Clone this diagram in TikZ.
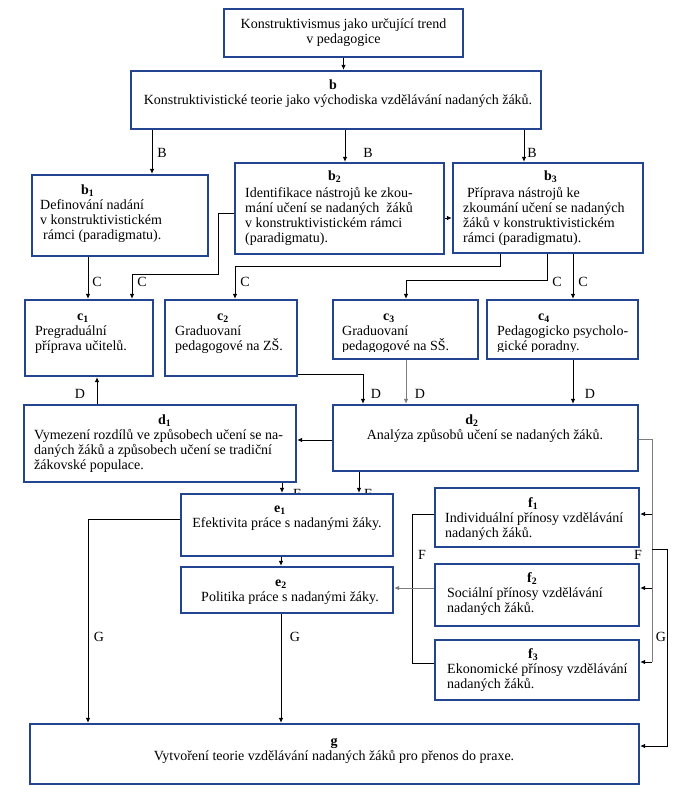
\documentclass[tikz,border=0pt]{standalone}
\usepackage{fontspec}
\setmainfont{Liberation Serif}
\usetikzlibrary{arrows.meta,fit}
\definecolor{boxblue}{RGB}{35,68,145}
\definecolor{lgray}{RGB}{125,125,125}
\newcommand\st{\rule{0pt}{11pt}}
\begin{document}
\begin{tikzpicture}[x=1pt,y=-1pt,
  box/.style={draw=boxblue, line width=2.4pt, fill=white, inner sep=0pt},
  txt/.style={font=\fontsize{14}{15}\selectfont, inner sep=0pt, anchor=north west, align=left},
  ctxt/.style={font=\fontsize{14}{15}\selectfont, inner sep=0pt, anchor=north, align=center},
  lab/.style={font=\fontsize{14}{15}\selectfont, inner sep=0pt},
  con/.style={line width=0.8pt},
  arr/.style={line width=0.8pt, -{Latex[length=5pt,width=4.5pt]}},
  gcon/.style={con, draw=lgray},
  garr/.style={arr, draw=lgray}]
\fill[white] (0,0) rectangle (677,796);
\useasboundingbox (0,0) rectangle (677,796);

% labels partly hidden by e1
\node[lab, anchor=base] (lF1) at (297,498) {F};
\node[lab, anchor=base] (lF2) at (368,498) {F};

% boxes
\node[box, fit={(224,9)(463,57)}] (a) {};
\node[box, fit={(131,71)(541,129)}] (b) {};
\node[box, fit={(32,175)(208,256)}] (b1) {};
\node[box, fit={(235,163)(444,254)}] (b2) {};
\node[box, fit={(453,163)(643,253)}] (b3) {};
\node[box, fit={(25,300)(153,376)}] (c1) {};
\node[box, fit={(165,300)(297,376)}] (c2) {};
\node[box, fit={(333,300)(478,359)}] (c3) {};
\node[box, fit={(487,300)(638,359)}] (c4) {};
\node[box, fit={(24,405)(296,482)}] (d1) {};
\node[box, fit={(333,405)(638,471)}] (d2) {};
\node[box, fit={(181,494)(393,556)}] (e1) {};
\node[box, fit={(181,567)(393,613)}] (e2) {};
\node[box, fit={(435,488)(639,547)}] (f1) {};
\node[box, fit={(435,564)(639,626)}] (f2) {};
\node[box, fit={(435,640)(639,700)}] (f3) {};
\node[box, fit={(30,724)(639,784)}] (g) {};

% texts
\node[ctxt] (ta) at (343.5,17) {\st Konstruktivismus jako určující trend\\v pedagogice};
\node[ctxt] (tb) at (338,78) {\st\hspace*{-10pt}\textbf{b}\\Konstruktivistické teorie jako východiska vzdělávání nadaných žáků.};
\node[txt] (tb1) at (40,183) {\st\hspace*{41pt}\textbf{b\textsubscript{1}}\\Definování nadání\\v konstruktivistickém\\\hspace*{3pt}rámci (paradigmatu).};
\node[txt] (tb2) at (245,169) {\st\hspace*{83pt}\textbf{b\textsubscript{2}}\\[2pt]Identifikace nástrojů ke zkou-\\mání učení se nadaných~ žáků\\v konstruktivistickém rámci\\(paradigmatu).};
\node[txt] (tb3) at (463,169) {\st\hspace*{81pt}\textbf{b\textsubscript{3}}\\[2pt]\hspace*{4pt}Příprava nástrojů ke\\zkoumání učení se nadaných\\žáků v konstruktivistickém\\rámci (paradigmatu).};
\node[txt] (tc1) at (35,309) {\st\hspace*{42pt}\textbf{c\textsubscript{1}}\\Pregraduální\\příprava učitelů.};
\node[txt] (tc2) at (175,309) {\st\hspace*{42pt}\textbf{c\textsubscript{2}}\\Graduovaní\\pedagogové na ZŠ.};
\begin{scope}
\clip (334,300) rectangle (478,351.5);
\node[txt] (tc3) at (342,309) {\st\hspace*{41pt}\textbf{c\textsubscript{3}}\\Graduovaní\\pedagogové na SŠ.};
\end{scope}
\begin{scope}
\clip (488,300) rectangle (638,351.5);
\node[txt] (tc4) at (497,309) {\st\hspace*{41pt}\textbf{c\textsubscript{4}}\\Pedagogicko psycholo-\\gické poradny.};
\end{scope}
\node[txt] (td1) at (34,413) {\st\hspace*{124pt}\textbf{d\textsubscript{1}}\\Vymezení rozdílů ve způsobech učení se na-\\daných žáků a způsobech učení se tradiční\\žákovské populace.};
\node[ctxt] (td2) at (485,413) {\st\hspace*{-26pt}\textbf{d\textsubscript{2}}\\Analýza způsobů učení se nadaných žáků.};
\node[ctxt] (te1) at (287,501) {\st\hspace*{-14pt}\textbf{e\textsubscript{1}}\\Efektivita práce s nadanými žáky.};
\node[ctxt] (te2) at (290,575) {\st\hspace*{-18pt}\textbf{e\textsubscript{2}}\\Politika práce s nadanými žáky.};
\node[txt] (tf1) at (445,496) {\st\hspace*{83pt}\textbf{f\textsubscript{1}}\\Individuální přínosy vzdělávání\\nadaných žáků.};
\node[txt] (tf2) at (447,571) {\st\hspace*{80pt}\textbf{f\textsubscript{2}}\\Sociální přínosy vzdělávání\\nadaných žáků.};
\node[txt] (tf3) at (447,647) {\st\hspace*{81pt}\textbf{f\textsubscript{3}}\\Ekonomické přínosy vzdělávání\\nadaných žáků.};
\node[ctxt] (tg) at (334,734) {\st\textbf{g}\\Vytvoření teorie vzdělávání nadaných žáků pro přenos do praxe.};

% junction coordinates
\coordinate (jb2) at (218,274);
\coordinate (jc2) at (235,266);
\coordinate (jc3) at (406,280);
\coordinate (je1) at (88,519);
\coordinate (jf) at (412,663);
\coordinate (jr1) at (652,514);
\coordinate (jr2) at (652,588);
\coordinate (jr3) at (652,662);
\coordinate (jg0) at (652,549);
\coordinate (jg1) at (667,746);

% connectors
\draw[arr] (a.south) -- (a.south |- b.north);
\draw[arr] (b.south -| 152,0) -- (b1.north -| 152,0);
\draw[arr] (b.south -| 345,0) -- (b2.north -| 345,0);
\draw[arr] (b.south -| 524,0) -- (b3.north -| 524,0);
\draw[arr] (b2.east |- 0,218) -- (b3.west |- 0,218);
\draw[arr] (b1.south -| 88,0) -- (c1.north -| 88,0);
\draw[arr] (b2.west |- 0,213) -| (jb2) -| (c1.north -| 132,0);
\draw[arr] (b3.south -| 500,0) |- (jc2) -- (c2.north -| jc2);
\draw[arr] (b3.south -| 547,0) |- (jc3) -- (c3.north -| jc3);
\draw[arr] (b3.south -| 573,0) -- (c4.north -| 573,0);
\draw[arr] (d1.north -| 97,0) -- (c1.south -| 97,0);
\draw[arr] (c2.east |- 0,374) -| (d2.north -| 363,0);
\draw[garr] (c3.south -| 406,0) -- (d2.north -| 406,0);
\draw[arr] (c4.south -| 573,0) -- (d2.north -| 573,0);
\draw[arr] (d2.west |- 0,440) -- (d1.east |- 0,440);
\draw[arr] (d1.south -| 282,0) -- (e1.north -| 282,0);
\draw[arr] (d2.south -| 359,0) -- (e1.north -| 359,0);
\draw[arr] (e1.south -| 281,0) -- (e2.north -| 281,0);
\draw[arr] (e1.west |- je1) -- (je1) -- (g.north -| je1);
\draw[arr] (e2.south -| 281,0) -- (g.north -| 281,0);
\draw[con] (f1.west |- 0,514) -| (jf) -- (f3.west |- jf);
\draw[garr] (f2.west |- 0,588) -- (e2.east |- 0,588);
\draw[gcon] (d2.east |- 0,439) -| (jr3);
\draw[arr] (jr3) -- (f3.east |- jr3);
\draw[arr] (jr1) -- (f1.east |- jr1);
\draw[arr] (jr2) -- (f2.east |- jr2);
\draw[arr] (jg0) -| (jg1) -- (g.east |- jg1);

% labels
\node[lab] (lB1) at (162,153) {B};
\node[lab] (lB2) at (368,153) {B};
\node[lab] (lB3) at (532,153) {B};
\node[lab] (lC1) at (97,282) {C};
\node[lab] (lC2) at (142,282) {C};
\node[lab] (lC3) at (245,282) {C};
\node[lab] (lC4) at (557,282) {C};
\node[lab] (lC5) at (583,282) {C};
\node[lab] (lD1) at (80,394) {D};
\node[lab] (lD2) at (376,394) {D};
\node[lab] (lD3) at (420,394) {D};
\node[lab] (lD4) at (590,394) {D};
\node[lab] (lF3) at (422,555) {F};
\node[lab] (lF4) at (638,555) {F};
\node[lab] (lG1) at (99,637) {G};
\node[lab] (lG2) at (295,637) {G};
\node[lab] (lG3) at (661,637) {G};
\end{tikzpicture}
\end{document}
